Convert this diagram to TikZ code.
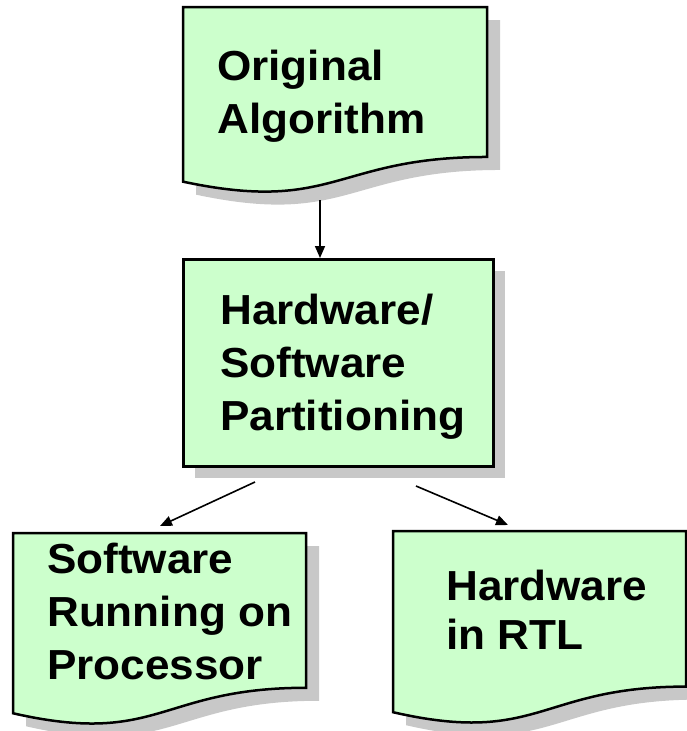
\documentclass[tikz,border=0pt]{standalone}
\usepackage{fontspec}
\setmainfont{Liberation Sans}
\newfontfamily\boxfont[FakeStretch=1.05]{Liberation Sans Bold}
\usetikzlibrary{arrows.meta}

\definecolor{docfill}{RGB}{204,255,204}
\definecolor{dropshade}{RGB}{200,200,200}

% Flow-chart "document" sheet: straight top and sides, wavy bottom edge,
% with a grey drop shadow. Arguments: name, x, y, width, height.
\newcommand\paperdoc[5]{%
  \fill[dropshade] ({#2+13},{#3+13}) -- ({#2+13+#4},{#3+13})
    -- ({#2+13+#4},{#3+13+0.802*#5})
    .. controls ({#2+13+#4/2},{#3+13+0.802*#5}) and ({#2+13+#4/2},{#3+13+1.107*#5})
    .. ({#2+13},{#3+13+0.934*#5}) -- cycle;
  \filldraw[sheet] ({#2},{#3}) -- ({#2+#4},{#3})
    -- ({#2+#4},{#3+0.802*#5})
    .. controls ({#2+#4/2},{#3+0.802*#5}) and ({#2+#4/2},{#3+1.107*#5})
    .. ({#2},{#3+0.934*#5}) -- cycle;
  \node[frame, anchor=north west, minimum width=#4pt, minimum height=#5pt] (#1) at (#2,#3) {};
}

\begin{document}
\begin{tikzpicture}[x=1pt, y=-1pt,
    sheet/.style={fill=docfill, draw=black, line width=2.5pt, line join=miter},
    frame/.style={draw=none, inner sep=0pt, outer sep=0pt},
    lbl/.style={anchor=base west, align=left, inner sep=0pt, text=black,
                font=\boxfont\fontsize{42}{53}\selectfont},
    arr/.style={draw=black, line width=1.6pt, -{Triangle[length=12pt,width=10pt]}}]

  \useasboundingbox (0,0) rectangle (687,731);

  % sheets
  \paperdoc{orig}{183}{7}{304}{187}
  \paperdoc{sw}{13}{533}{293}{193}
  \paperdoc{hw}{393}{531}{293}{194}

  % partitioning step (plain box with shadow)
  \fill[dropshade] (195,271) rectangle (505,478);
  \node[sheet, anchor=north west, inner sep=0pt, minimum width=310pt,
        minimum height=207pt] (part) at (182,258) {};

  % labels, placed by the baseline of their last line
  \node[lbl] (torig) at (217,133) {Original\\Algorithm};
  \node[lbl] (tpart) at (220,430) {Hardware/\\Software\\Partitioning};
  \node[lbl] (tsw) at (47,679) {Software\\Running on\\Processor};
  \node[lbl, font=\boxfont\fontsize{42}{49}\selectfont] (thw) at (446,649) {Hardware\\in RTL};

  % connectors
  \coordinate (down) at (320,200);
  \coordinate (leftgo) at (255,482);
  \coordinate (leftend) at (160,526);
  \coordinate (rightgo) at (416,486);
  \coordinate (rightend) at (508,525);
  \draw[arr] (down) -- (down |- part.north);
  \draw[arr] (leftgo) -- (leftend);
  \draw[arr] (rightgo) -- (rightend);
\end{tikzpicture}
\end{document}
